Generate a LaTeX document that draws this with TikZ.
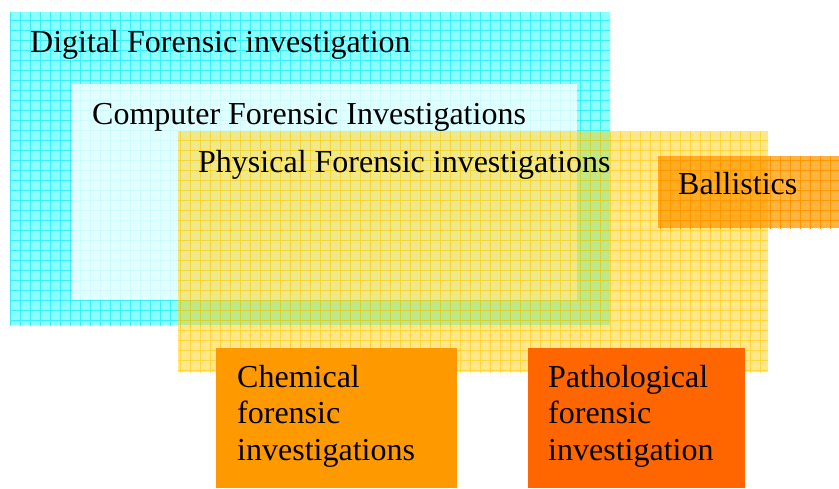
\documentclass[tikz,border=0pt]{standalone}
\usepackage{fontspec}
\setmainfont{Liberation Serif}
\definecolor{cyanfill}{RGB}{140,255,255}
\definecolor{cyangrid}{RGB}{60,240,250}
\definecolor{yelfill}{RGB}{255,204,0}
\definecolor{yelgrid}{RGB}{255,204,0}
\definecolor{orgfill}{RGB}{255,153,0}
\definecolor{redorg}{RGB}{255,102,0}
\tikzset{
  lbl/.style={anchor=base west, inner sep=0pt, font=\fontsize{32}{36.5}\selectfont, text=black},
  mlbl/.style={lbl, align=left},
  gridlines/.style={line width=0.9pt},
}
\begin{document}
\begin{tikzpicture}[x=1pt,y=-1pt]
\useasboundingbox (0,0) rectangle (839,488);
% Digital (cyan)
\fill[cyanfill] (10,12) rectangle (610,325);
\begin{scope}
\clip (10,12) rectangle (610,325);
\draw[cyangrid, gridlines, step=10pt] (0,0) grid (839,488);
\end{scope}
% Computer (white)
\fill[white, opacity=0.75] (72,84) rectangle (577,300);
% Physical (yellow, translucent)
\fill[yelfill, opacity=0.45] (178,131) rectangle (768,372);
\begin{scope}
\clip (178,131) rectangle (768,372);
\draw[yelgrid, gridlines, opacity=0.6, step=10pt] (0,0) grid (839,488);
\end{scope}
% Ballistics
\fill[orgfill, opacity=0.75] (658,156) rectangle (839,228);
\begin{scope}
\clip (658,156) rectangle (839,228);
\draw[orgfill, gridlines, step=10pt] (0,0) grid (839,488);
\end{scope}
% Chemical and Pathological
\fill[orgfill] (216,348) rectangle (457,488);
\fill[redorg] (528,348) rectangle (745,488);
% labels
\node[lbl] (digital) at (30,52) {Digital Forensic investigation};
\node[lbl] (computer) at (92,124) {Computer Forensic Investigations};
\node[lbl] (physical) at (198,172) {Physical Forensic investigations};
\node[lbl] (ballistics) at (678,194) {Ballistics};
\node[mlbl] (chemical) at (237,460) {Chemical\\forensic\\investigations};
\node[mlbl] (patho) at (548,460) {Pathological\\forensic\\investigation};
\end{tikzpicture}
\end{document}
